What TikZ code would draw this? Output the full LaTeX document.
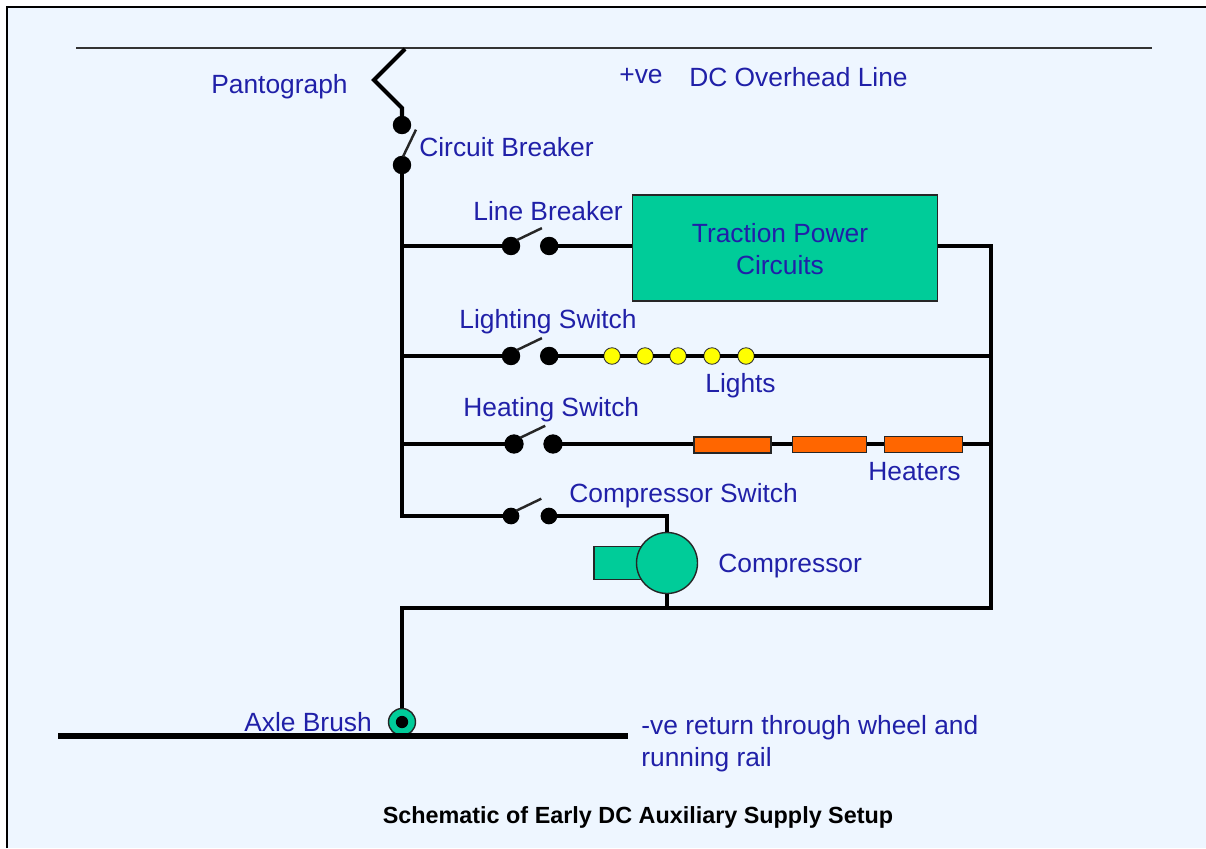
\documentclass[tikz,border=0pt]{standalone}
\usepackage{fontspec}
\setmainfont{Liberation Sans}
\usetikzlibrary{positioning, calc}
\definecolor{panel}{HTML}{EEF6FF}
\definecolor{labelblue}{HTML}{2020A8}
\definecolor{teal}{HTML}{00CC99}
\definecolor{heat}{HTML}{FF6600}
\definecolor{lamp}{HTML}{FFFF00}
\tikzstyle{wire}=[line width=2.4pt,draw=black,line join=miter]
\tikzstyle{thin wire}=[line width=1.4pt,draw=black!85]
\tikzstyle{contact}=[circle, fill=black, inner sep=0pt, outer sep=-0.5pt, minimum size=10.5pt]
\tikzstyle{lamp node}=[circle, draw=black!80, fill=lamp, line width=0.5pt, inner sep=0pt, outer sep=-0.3pt, minimum size=9.4pt]
\tikzstyle{heater}=[rectangle, draw=black!85, fill=heat, line width=0.8pt, inner sep=0pt, minimum height=9pt]
\tikzstyle{component}=[rectangle, draw=black!85, fill=teal, line width=0.8pt, align=center]
\tikzstyle{tag}=[text=labelblue, font=\fontsize{15}{18}\selectfont, inner sep=0pt, anchor=west]

\begin{document}
\begin{tikzpicture}[x=0.02cm, y=-0.02cm, node distance = 0.43cm]
        \useasboundingbox (0,0) rectangle (1206,848);
        % Draw the background
        \fill[white] (0,0) rectangle (1206,848);
        \fill[panel] (7,7) rectangle (1206,848);
        \draw[line width=1.2pt] (7,848) -- (7,7) -- (1206,7);

        % Draw the overhead line and pantograph
        \coordinate (line left) at (76,48);
        \coordinate (line right) at (1152,48);
        \coordinate (panto top) at (405,49);
        \coordinate (panto knee) at (374,80);
        \coordinate (panto foot) at (402,108);
        \draw[line width=1.3pt, draw=black!80] (line left) -- (line right);

        % Draw the blocks
        \node[contact] (breaker top) at (402,125) {};
        \node[contact] (breaker bottom) at (402,165) {};
        \draw[wire] (panto top) -- (panto knee) -- (panto foot) -- (breaker top);
        \draw[thin wire] (breaker bottom.north) ++(1,0) -- ++(13,-27);

        \node[component, minimum width=6.1cm, minimum height=2.12cm] (traction) at (785,248) {};
        \node[text=labelblue, font=\fontsize{15}{18}\selectfont, align=center, inner sep=0pt] (traction label) at (780,249) {Traction Power \\ Circuits};

        % line breaker branch
        \coordinate (bus line) at (402,246);
        \node[contact] (line a) at (511,246) {};
        \node[contact, right = of line a] (line b) {};
        \draw[thin wire] (line a.north east) -- ++(25,-12);

        % lighting branch
        \coordinate (bus light) at (402,356);
        \coordinate (return light) at (991,356);
        \node[contact] (light a) at (511,356) {};
        \node[contact, right = of light a] (light b) {};
        \draw[thin wire] (light a.north east) -- ++(25,-12);
        \node[lamp node] (lamp 1) at (612,356) {};
        \node[lamp node] (lamp 2) at (645,356) {};
        \node[lamp node] (lamp 3) at (678,356) {};
        \node[lamp node] (lamp 4) at (712,356) {};
        \node[lamp node] (lamp 5) at (746,356) {};

        % heating branch
        \coordinate (bus heat) at (402,444);
        \coordinate (return heat) at (991,444);
        \node[contact, minimum size=11pt] (heat a) at (514,444) {};
        \node[contact, minimum size=11pt] (heat b) at (553,444) {};
        \draw[thin wire] (heat a.north east) -- ++(25,-12);
        \node[heater, minimum width=1.54cm] (heater 1) at (732.5,445) {};
        \node[heater, minimum width=1.49cm] (heater 2) at (829.5,444.5) {};
        \node[heater, minimum width=1.57cm] (heater 3) at (923.5,444.5) {};

        % compressor branch
        \coordinate (bus comp) at (402,516);
        \coordinate (comp corner) at (667,516);
        \node[contact, minimum size=9.5pt] (comp a) at (511,516) {};
        \node[contact, minimum size=9.5pt, right = 0.46cm of comp a] (comp b) {};
        \draw[thin wire] (comp a.north east) -- ++(25,-12);
        \node[component, minimum width=0.96cm, minimum height=0.66cm] (pump) at (618,563) {};
        \node[component, circle, inner sep=0pt, minimum size=1.22cm] (motor) at (667,563) {};

        % return side
        \coordinate (return top) at (991,246);
        \coordinate (return bottom) at (991,608);
        \coordinate (return tap) at (667,608);
        \coordinate (return left) at (402,608);
        \node[circle, draw=black!85, fill=teal, line width=0.8pt, inner sep=0pt, minimum size=0.54cm] (brush) at (402,722) {};
        \node[contact, minimum size=7pt] (brush core) at (402,722) {};
        \coordinate (rail left) at (58,736);
        \coordinate (rail right) at (628,736);

        % Draw the wires
        \draw[wire] (breaker bottom) -- (bus line) -- (bus light) -- (bus heat) -- (bus comp) -- (comp a);
        \draw[wire] (bus line) -- (line a);
        \draw[wire] (line b) -- (traction.west |- line b);
        \draw[wire] (traction.east |- return top) -- (return top) -- (return bottom) -- (return left) -- (brush);
        \draw[wire] (bus light) -- (light a);
        \draw[wire] (light b) -- (lamp 1);
        \draw[wire] (lamp 1) -- (lamp 2);
        \draw[wire] (lamp 2) -- (lamp 3);
        \draw[wire] (lamp 3) -- (lamp 4);
        \draw[wire] (lamp 4) -- (lamp 5);
        \draw[wire] (lamp 5) -- (return light);
        \draw[wire] (bus heat) -- (heat a);
        \draw[wire] (heat b) -- (heater 1.west |- heat b);
        \draw[wire] (heater 1.east |- heat b) -- (heater 2.west |- heat b);
        \draw[wire] (heater 2.east |- heat b) -- (heater 3.west |- heat b);
        \draw[wire] (heater 3.east |- heat b) -- (return heat);
        \draw[wire] (comp b) -- (comp corner) -- (motor);
        \draw[wire] (motor) -- (return tap);
        \draw[line width=3.4pt] (rail left) -- (rail right);

        % Draw the labels
        \node[tag] (pantograph label) at (211,87) {Pantograph};
        \node[tag] (positive label) at (619,76) {+ve};
        \node[tag] (overhead label) at (689,77) {DC Overhead Line};
        \node[tag] (circuit breaker label) at (419,147) {Circuit Breaker};
        \node[tag] (line breaker label) at (473,211) {Line Breaker};
        \node[tag] (lighting switch label) at (459,322) {Lighting Switch};
        \node[tag] (lights label) at (705,386) {Lights};
        \node[tag] (heating switch label) at (463,410) {Heating Switch};
        \node[tag] (heaters label) at (868,472) {Heaters};
        \node[tag] (compressor switch label) at (569,496) {Compressor Switch};
        \node[tag] (compressor label) at (718,566) {Compressor};
        \node[tag] (axle brush label) at (244,722) {Axle Brush};
        \node[tag] (return label 1) at (641,728) {-ve return through wheel and};
        \node[tag] (return label 2) at (641,760) {running rail};
        \node[font=\bfseries\fontsize{13.3}{16}\selectfont, inner sep=0pt] (title) at (638,817) {Schematic of Early DC Auxiliary Supply Setup};
    \end{tikzpicture}
\end{document}
